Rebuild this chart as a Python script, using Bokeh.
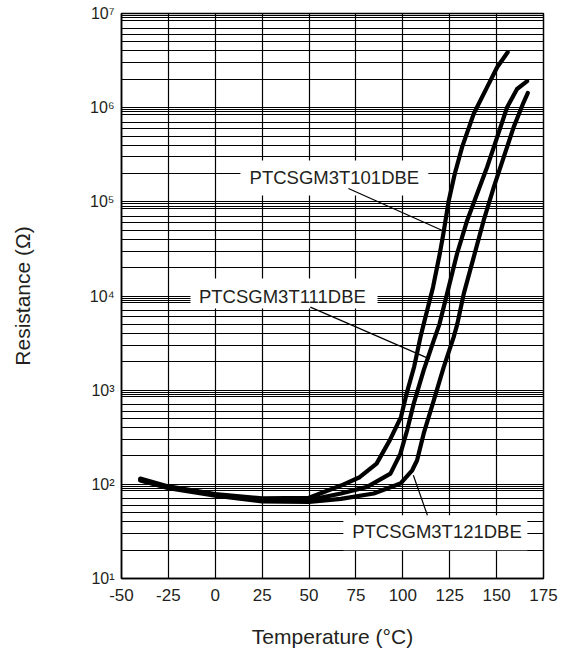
from bokeh.plotting import figure
from bokeh.models import (Range1d, FixedTicker, BoxAnnotation, Label,
                          CustomJSTickFormatter)
from bokeh.embed import file_html
from bokeh.resources import INLINE

# ---- data (temperature in degC, resistance in ohm) ----
temp_101 = [-40, -25, 0, 25, 50, 67, 77, 86, 93, 99, 102, 106, 109.4, 111.1, 116.1,
            119.7, 121.5, 124.5, 127.7, 131.6, 137.8, 145.8, 150.3, 155.9]
res_101 = [115, 95, 79, 71, 72, 97, 119, 166, 293, 518, 918, 1760, 3660, 5000, 12400,
           28100, 44700, 103500, 199000, 381000, 861000, 1790000, 2690000, 3880000]

temp_111 = [-40, -25, 0, 25, 50, 67, 81, 93.4, 98.7, 102.3, 105.8, 111.1, 116.5, 119.5,
            123.6, 128.9, 134.3, 139.6, 144.9, 150.3, 155.6, 160.9, 166.3]
res_111 = [112, 93, 78, 68, 68, 80, 94, 130, 212, 375, 720, 1620, 3380, 5000,
           10600, 28100, 63400, 122000, 233000, 486000, 1010000, 1580000, 1910000]

temp_121 = [-40, -25, 0, 25, 50, 67, 84.5, 98.7, 105, 107.6, 111.1, 116.5, 121.8, 127.1,
            129, 132.5, 137.8, 143.1, 148.5, 153.8, 159.1, 164.4, 166.6]
res_121 = [110, 91, 76, 66, 65, 70, 80, 102, 141, 180, 345, 780, 1760, 3660,
           5000, 10600, 25900, 63400, 143000, 299000, 621000, 1140000, 1430000]

x_ticks = [-50, -25, 0, 25, 50, 75, 100, 125, 150, 175]
y_ticks = [1e1, 1e2, 1e3, 1e4, 1e5, 1e6, 1e7]
y_tick_labels = ["10¹", "10²", "10³", "10⁴", "10⁵", "10⁶", "10⁷"]
series_names = ["PTCSGM3T101DBE", "PTCSGM3T111DBE", "PTCSGM3T121DBE"]

FONT = "Liberation Sans"
TXT = "#231f20"

grid_mult = [1, 2, 3, 4, 5, 6, 7, 8.5, 9, 9.5]
y_grid = [m * 10 ** e for e in range(1, 7) for m in grid_mult] + [1e7]

p = figure(frame_width=422, frame_height=565,
           x_range=Range1d(-50, 175), y_range=Range1d(10, 1e7),
           y_axis_type="log", output_backend="svg", toolbar_location=None,
           min_border_left=121, min_border_right=16, min_border_top=13,
           min_border_bottom=72)
p.background_fill_color = "white"
p.border_fill_color = "white"
p.outline_line_color = "black"
p.outline_line_width = 1.5
p.outline_line_alpha = 1

# grids
p.xgrid.ticker = FixedTicker(ticks=x_ticks)
p.xgrid.grid_line_color = "black"
p.xgrid.grid_line_alpha = 1
p.xgrid.grid_line_width = 1.2
p.ygrid.ticker = FixedTicker(ticks=y_grid)
p.ygrid.grid_line_color = "black"
p.ygrid.grid_line_alpha = 1
p.ygrid.grid_line_width = 1.0

# x axis
p.xaxis.ticker = FixedTicker(ticks=x_ticks)
p.xaxis.formatter = CustomJSTickFormatter(code="return tick.toFixed(0);")
p.xaxis.major_tick_line_color = None
p.xaxis.minor_tick_line_color = None
p.xaxis.axis_line_color = "black"
p.xaxis.axis_line_width = 1.5
p.xaxis.major_label_text_font = FONT
p.xaxis.major_label_text_font_size = "17px"
p.xaxis.major_label_text_color = TXT
p.xaxis.major_label_standoff = 4
p.xaxis.axis_label = "Temperature (°C)"
p.xaxis.axis_label_text_font = FONT
p.xaxis.axis_label_text_font_size = "21px"
p.xaxis.axis_label_text_font_style = "normal"
p.xaxis.axis_label_text_color = TXT
p.xaxis.axis_label_standoff = 21

# y axis (log, 10^n labels)
p.yaxis.ticker = FixedTicker(ticks=y_ticks)
p.yaxis.major_label_overrides = {t: s for t, s in zip(y_ticks, y_tick_labels)}
p.yaxis.major_tick_line_color = None
p.yaxis.minor_tick_line_color = None
p.yaxis.axis_line_color = "black"
p.yaxis.axis_line_width = 1.5
p.yaxis.major_label_text_font = FONT
p.yaxis.major_label_text_font_size = "16px"
p.yaxis.major_label_text_color = TXT
p.yaxis.major_label_standoff = 1
p.yaxis.axis_label = "Resistance (Ω)"
p.yaxis.axis_label_text_font = FONT
p.yaxis.axis_label_text_font_size = "21px"
p.yaxis.axis_label_text_font_style = "normal"
p.yaxis.axis_label_text_color = TXT
p.yaxis.axis_label_standoff = 53

# curves
for t, r in [(temp_101, res_101), (temp_111, res_111), (temp_121, res_121)]:
    p.line(t, r, line_color="black", line_width=4.2, line_join="round", line_cap="round")

# label boxes
boxes = [(13.4, 113.6, 10 ** 5.068, 10 ** 5.44),
         (-13.2, 86.5, 10 ** 3.868, 10 ** 4.187),
         (68.3, 166.4, 10 ** 1.30, 10 ** 1.671)]
for l, r, b, t in boxes:
    p.add_layout(BoxAnnotation(left=l, right=r, bottom=b, top=t,
                               fill_color="white", fill_alpha=1,
                               line_color=None, line_alpha=0))

# leader lines
p.segment(x0=[71.0, 50.7, 105.6], y0=[10 ** 5.142, 10 ** 3.882, 10 ** 2.096],
          x1=[121.1, 114.2, 113.1], y1=[10 ** 4.696, 10 ** 3.332, 10 ** 1.671],
          line_color="black", line_width=1.2, level="overlay")

# series labels
label_pos = [(63.5, 10 ** 5.254), (35.8, 10 ** 3.996), (118.2, 10 ** 1.496)]
for name, (lx, ly) in zip(series_names, label_pos):
    p.add_layout(Label(x=lx, y=ly, text=name, text_align="center", text_baseline="middle",
                       text_font=FONT, text_font_size="18.5px", text_color=TXT))

open("out.html", "w").write(file_html(p, INLINE))
